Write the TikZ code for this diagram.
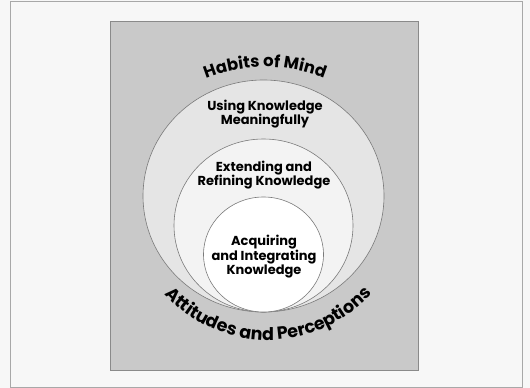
\documentclass[tikz,border=0pt]{standalone}
\usepackage{fontspec}
\setmainfont{Poppins}
\usetikzlibrary{decorations.text}
\definecolor{canvas}{HTML}{F7F7F7}
\definecolor{frameline}{HTML}{A8A8A8}
\definecolor{boxfill}{HTML}{C9C9C9}
\definecolor{boxline}{HTML}{8A8A8A}
\definecolor{ringA}{HTML}{E5E5E5}
\definecolor{ringB}{HTML}{F3F3F3}
\definecolor{ringC}{HTML}{FFFFFF}
\definecolor{ringline}{HTML}{7A7A7A}
\tikzset{
  ring/.style={draw=ringline, line width=0.6pt},
  label/.style={align=center, font=\bfseries\fontsize{13}{14.5}\selectfont, text=black, inner sep=0pt},
}
\begin{document}
\begin{tikzpicture}[x=1pt,y=1pt]
\useasboundingbox (0,0) rectangle (530,388);
\fill[canvas] (0,0) rectangle (530,388);
\draw[frameline, line width=0.8pt] (10,1) rectangle (522,387);
\draw[boxline, fill=boxfill, line width=0.8pt] (110,18) rectangle (418,367);
% rings
\draw[ring, fill=ringA] (263.5,192) ellipse [x radius=120.5, y radius=116];
\draw[ring, fill=ringB] (263.5,162.5) ellipse [x radius=89.5, y radius=86.5];
\draw[ring, fill=ringC] (263.5,133.5) ellipse [x radius=60, y radius=57.5];
% labels
\node[label] (use) at (265,274) {Using Knowledge\\Meaningfully};
\node[label] (ext) at (264,213) {Extending and\\Refining Knowledge};
\node[label] (acq) at (264,131) {Acquiring\\and Integrating\\Knowledge};
% curved titles
\path[decorate, decoration={text along path, text align=center,
  text={|\bfseries\fontsize{16.5}{16.5}\selectfont|Habits of Mind}}]
  ([shift={(265,161)}]145:160) arc[start angle=145, end angle=35, radius=160];
\path[decorate, decoration={text along path, text align=center,
  text={|\bfseries\fontsize{17.5}{17.5}\selectfont|Attitudes and Perceptions}}]
  ([shift={(268,188)}]195:140) arc[start angle=195, end angle=345, radius=140];
\end{tikzpicture}
\end{document}
